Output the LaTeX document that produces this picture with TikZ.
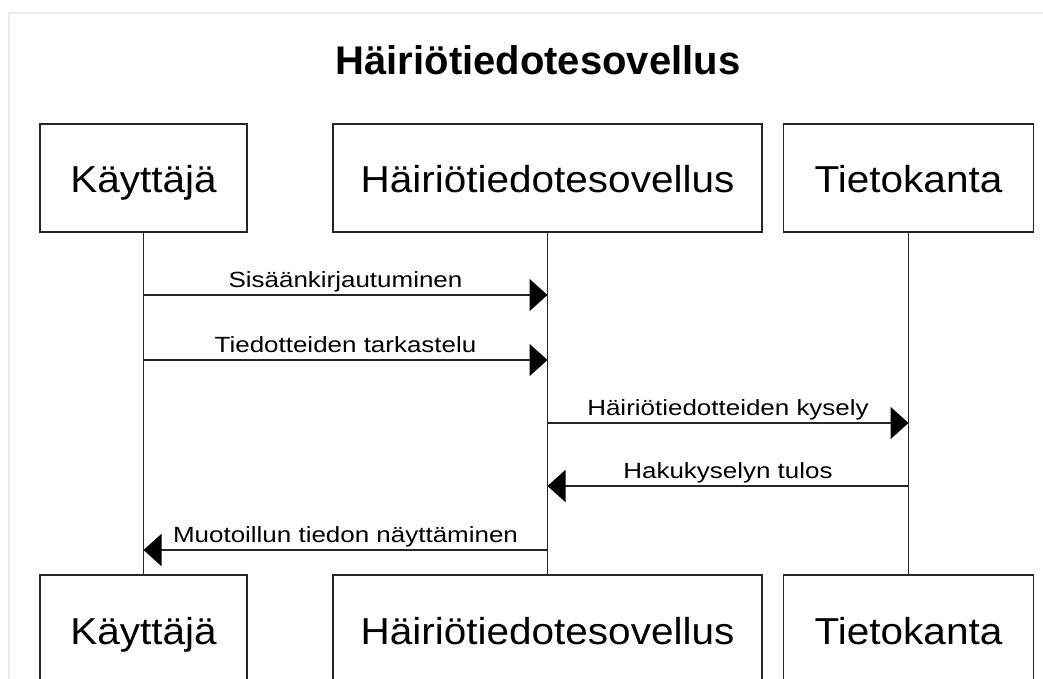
\documentclass[tikz,border=0pt]{standalone}
\usepackage{fontspec}
\setmainfont{Liberation Sans}
\newfontfamily\boxfont[FakeStretch=1.08]{Liberation Sans}
\newfontfamily\msgfont[FakeStretch=1.18]{Liberation Sans}
\usetikzlibrary{arrows.meta}
\tikzset{
  actor/.style={draw=black!85, line width=1.8pt, minimum height=108pt, inner sep=0pt,
    text height=30pt, text depth=0pt, font=\boxfont\fontsize{37.5}{40}\selectfont},
  life/.style={draw=black!85, line width=1.8pt},
  msg/.style={draw=black!85, line width=1.8pt, -{Triangle[length=18pt,width=32pt,fill=black,color=black]}},
  lbl/.style={midway, anchor=base, yshift=8pt, inner sep=0pt, font=\msgfont\fontsize{22}{24}\selectfont}
}
\begin{document}
\begin{tikzpicture}[x=1pt, y=-1pt]
    \useasboundingbox (0,0) rectangle (1043,679);
    \draw[black!8, line width=1.5pt] (9,700) -- (9,13) -- (1060,13);
    \node[anchor=base, font=\bfseries\fontsize{40}{44}\selectfont] (title) at (538,75) {Häiriötiedotesovellus};
    % top row
    \node[actor, minimum width=207pt] (kt) at (143.5,178) {Käyttäjä};
    \node[actor, minimum width=429pt] (ht) at (547.5,178) {Häiriötiedotesovellus};
    \node[actor, minimum width=250pt] (tt) at (908.5,178) {Tietokanta};
    % bottom row
    \node[actor, minimum width=207pt] (kb) at (143.5,629) {Käyttäjä};
    \node[actor, minimum width=429pt] (hb) at (547.5,629) {Häiriötiedotesovellus};
    \node[actor, minimum width=250pt] (tb) at (908.5,629) {Tietokanta};
    % lifelines
    \draw[life] (kt) -- (kb);
    \draw[life] (ht) -- (hb);
    \draw[life] (tt) -- (tb);
    % messages
    \draw[msg] (kt.south |- 0,295) -- node[lbl] {Sisäänkirjautuminen} (ht.south |- 0,295);
    \draw[msg] (kt.south |- 0,360) -- node[lbl] {Tiedotteiden tarkastelu} (ht.south |- 0,360);
    \draw[msg] (ht.south |- 0,423) -- node[lbl] {Häiriötiedotteiden kysely} (tt.south |- 0,423);
    \draw[msg] (tt.south |- 0,486) -- node[lbl] {Hakukyselyn tulos} (ht.south |- 0,486);
    \draw[msg] (ht.south |- 0,550) -- node[lbl] {Muotoillun tiedon näyttäminen} (kt.south |- 0,550);
\end{tikzpicture}
\end{document}
